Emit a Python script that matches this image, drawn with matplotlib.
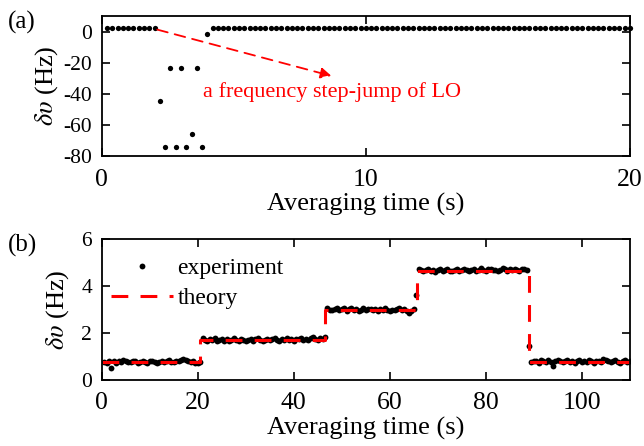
import numpy as np
import matplotlib
matplotlib.use('Agg')
from matplotlib import pyplot as plt

plt.rcParams['font.family'] = ['Liberation Serif', 'DejaVu Serif']
plt.rcParams['mathtext.fontset'] = 'stix'
plt.rcParams['axes.unicode_minus'] = False

# panel (a): LO step-jump, one point every 0.2 s
ta = np.arange(0.2, 20.01, 0.2)
dva = [2.2, 2.2, 2.2, 2.2, 2.2, 2.2, 2.2, 2.2, 2.2, 2.2,
       -44.6, -74.2, -23.2, -74.2, -23.2, -74.2, -66.0, -23.2, -74.2, -1.7,
       2.2, 2.2, 2.2, 2.2, 2.2, 2.2, 2.2, 2.2, 2.2, 2.2,
       2.2, 2.2, 2.2, 2.2, 2.2, 2.2, 2.2, 2.2, 2.2, 2.2,
       2.2, 2.2, 2.2, 2.2, 2.2, 2.2, 2.2, 2.2, 2.2, 2.2,
       2.2, 2.2, 2.2, 2.2, 2.2, 2.2, 2.2, 2.2, 2.2, 2.2,
       2.2, 2.2, 2.2, 2.2, 2.2, 2.2, 2.2, 2.2, 2.2, 2.2,
       2.2, 2.2, 2.2, 2.2, 2.2, 2.2, 2.2, 2.2, 2.2, 2.2,
       2.2, 2.2, 2.2, 2.2, 2.2, 2.2, 2.2, 2.2, 2.2, 2.2,
       2.2, 2.2, 2.2, 2.2, 2.2, 2.2, 2.2, 2.2, 2.2, 2.2]

# panel (b): experiment, one point every 0.5 s
tb = np.arange(0.5, 110.01, 0.5)
dvb = [0.76, 0.72, 0.80, 0.50, 0.79, 0.74, 0.82, 0.78, 0.84, 0.80,
       0.77, 0.75, 0.81, 0.79, 0.73, 0.78, 0.82, 0.76, 0.74, 0.79,
       0.81, 0.77, 0.72, 0.78, 0.80, 0.75, 0.79, 0.83, 0.76, 0.78,
       0.81, 0.79, 0.86, 0.90, 0.84, 0.79, 0.76, 0.82, 0.74, 0.71,
       0.76,
       1.80, 1.72, 1.66, 1.74, 1.69, 1.77, 1.65, 1.71, 1.76, 1.68,
       1.73, 1.66, 1.70, 1.78, 1.72, 1.67, 1.74, 1.69, 1.64, 1.71,
       1.75, 1.68, 1.73, 1.79, 1.70, 1.66, 1.72, 1.76, 1.69, 1.74,
       1.80, 1.71, 1.67, 1.75, 1.72, 1.78, 1.70, 1.74, 1.68, 1.76,
       1.73, 1.79, 1.71, 1.75, 1.69, 1.77, 1.82, 1.74, 1.72, 1.78,
       1.76, 1.83,
       3.06, 3.00, 2.96, 3.04, 3.08, 2.98, 3.02, 3.07, 2.95, 3.01,
       3.05, 2.99, 3.03, 2.94, 3.00, 3.06, 2.97, 3.02, 3.04, 2.98,
       3.01, 2.95, 3.03, 2.99, 3.05, 2.97, 2.93, 3.00, 2.96, 3.02,
       3.08, 2.99, 3.04, 2.92, 2.86, 2.95, 3.03,
       3.62,
       4.74, 4.69, 4.63, 4.68, 4.72, 4.65, 4.70, 4.61, 4.67, 4.71,
       4.64, 4.69, 4.73, 4.66, 4.62, 4.68, 4.71, 4.65, 4.70, 4.74,
       4.67, 4.63, 4.69, 4.72, 4.66, 4.70, 4.76, 4.68, 4.65, 4.71,
       4.73, 4.67, 4.70, 4.64, 4.69, 4.75, 4.71, 4.66, 4.72, 4.68,
       4.74, 4.70, 4.65, 4.71, 4.73, 4.69,
       1.45,
       0.76, 0.82, 0.79, 0.74, 0.85, 0.80, 0.77, 0.83, 0.78, 0.60,
       0.81, 0.86, 0.79, 0.75, 0.82, 0.84, 0.77, 0.80, 0.73, 0.79,
       0.83, 0.76, 0.81, 0.78, 0.85, 0.80, 0.74, 0.79, 0.82, 0.77,
       0.88, 0.83, 0.79, 0.76, 0.81, 0.85, 0.78, 0.73, 0.80, 0.84,
       0.77, 0.79]

# theory: step levels and where they start
theory_t = [0, 20.5, 46.5, 65.6, 89.0, 110]
theory_v = [0.78, 1.70, 3.00, 4.66, 0.78, 0.78]

fig = plt.figure(figsize=(6.44, 4.46), dpi=100)
ax1 = fig.add_axes([0.158, 0.650, 0.820, 0.314])
ax2 = fig.add_axes([0.158, 0.148, 0.820, 0.316])

for ax in (ax1, ax2):
    ax.tick_params(direction='in', top=True, right=True, length=6, width=1.2)
    ax.tick_params(axis='x', labelsize=18.5, pad=9)
    ax.tick_params(axis='y', labelsize=15.5, pad=7)
    for s in ax.spines.values():
        s.set_linewidth(1.3)

ax1.plot(ta, dva, 'o', color='black', ms=3.8, mew=0, clip_on=False)
ax1.set_xlim(0, 20)
ax1.set_ylim(-80, 10)
ax1.set_xticks([0, 10, 20])
ax1.set_yticks([0, -20, -40, -60, -80])
ax1.set_xlabel('Averaging time (s)', fontsize=19, labelpad=2)
ax1.set_ylabel(r'$\delta\upsilon$ (Hz)', fontsize=19, labelpad=2)
ax1.annotate('', xy=(8.7, -28.5), xytext=(2.1, 1.3),
             arrowprops=dict(arrowstyle='-|>', color='red', lw=1.3,
                             linestyle=(0, (6, 4)), mutation_scale=16,
                             shrinkA=0, shrinkB=0))
ax1.text(3.83, -38.8, 'a frequency step-jump of LO', color='red',
         fontsize=16, ha='left', va='center')

ax2.plot(tb, dvb, 'o', color='black', ms=4.2, mew=0, label='experiment')
ax2.step(theory_t, theory_v, where='post', color='red', lw=2.2,
         dashes=(5.5, 4), label='theory')
ax2.set_xlim(0, 110)
ax2.set_ylim(0, 6)
ax2.set_xticks([0, 20, 40, 60, 80, 100])
ax2.set_yticks([0, 2, 4, 6])
ax2.set_xlabel('Averaging time (s)', fontsize=19, labelpad=2)
ax2.set_ylabel(r'$\delta\upsilon$ (Hz)', fontsize=19, labelpad=7)
ax2.legend(loc='upper left', frameon=False, fontsize=17, handlelength=2.6,
           handletextpad=0.2, borderaxespad=0.0, labelspacing=0.35,
           markerscale=1.0, bbox_to_anchor=(0.0, 0.935))

fig.text(0.012, 0.975, '(a)', fontsize=18, va='top')
fig.text(0.012, 0.475, '(b)', fontsize=18, va='top')

plt.savefig('out.png', dpi=100)
